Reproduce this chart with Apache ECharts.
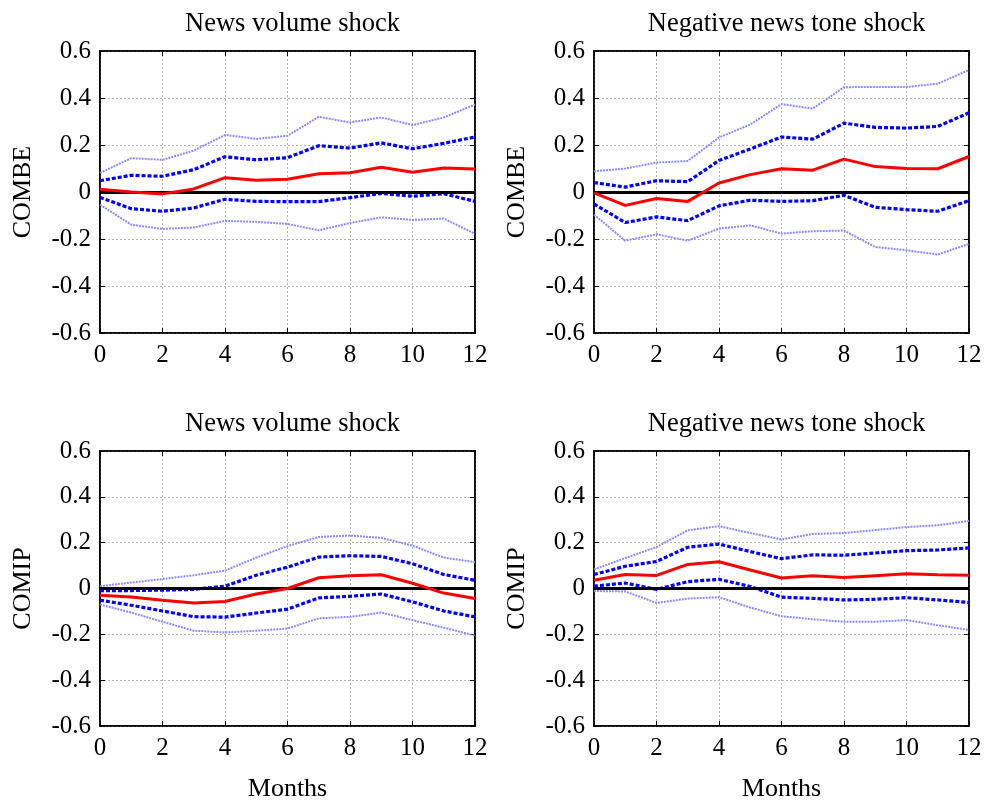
<!DOCTYPE html>
<html>
<head>
<meta charset="utf-8">
<script src="https://cdn.jsdelivr.net/npm/echarts@6/dist/echarts.min.js"></script>
<style>
html,body{margin:0;padding:0;background:#fff;}
#chart{width:987px;height:803px;}
</style>
</head>
<body>
<div id="chart"></div>
<script>
const months = [0,1,2,3,4,5,6,7,8,9,10,11,12];
const panelTitles = ['News volume shock','Negative news tone shock','News volume shock','Negative news tone shock'];
const yNames = ['COMBE','COMBE','COMIP','COMIP'];
const xName = 'Months';
const yTicks = [-0.6,-0.4,-0.2,0,0.2,0.4,0.6];
const xTicks = [0,2,4,6,8,10,12];

// Panel 1: COMBE, news volume shock
const p1_irf   = [0.012,0.0,-0.008,0.013,0.061,0.05,0.054,0.078,0.082,0.105,0.084,0.102,0.098];
const p1_up68  = [0.048,0.071,0.067,0.095,0.15,0.137,0.146,0.197,0.187,0.209,0.184,0.207,0.234];
const p1_lo68  = [-0.023,-0.071,-0.082,-0.068,-0.031,-0.04,-0.041,-0.041,-0.024,-0.006,-0.018,-0.007,-0.04];
const p1_up90  = [0.081,0.144,0.137,0.176,0.243,0.226,0.239,0.32,0.296,0.317,0.285,0.317,0.372];
const p1_lo90  = [-0.054,-0.139,-0.157,-0.151,-0.123,-0.127,-0.136,-0.163,-0.132,-0.108,-0.119,-0.113,-0.178];

// Panel 2: COMBE, negative news tone shock
const p2_irf   = [-0.004,-0.057,-0.028,-0.04,0.038,0.074,0.099,0.093,0.14,0.108,0.1,0.099,0.151];
const p2_up68  = [0.04,0.021,0.048,0.044,0.134,0.183,0.234,0.225,0.293,0.275,0.272,0.279,0.337];
const p2_lo68  = [-0.051,-0.13,-0.106,-0.122,-0.059,-0.035,-0.04,-0.037,-0.014,-0.065,-0.075,-0.082,-0.037];
const p2_up90  = [0.088,0.1,0.125,0.132,0.232,0.287,0.374,0.355,0.446,0.447,0.447,0.461,0.519];
const p2_lo90  = [-0.096,-0.207,-0.18,-0.207,-0.156,-0.142,-0.177,-0.167,-0.164,-0.234,-0.248,-0.266,-0.221];

// Panel 3: COMIP, news volume shock
const p3_irf   = [-0.029,-0.037,-0.051,-0.063,-0.057,-0.024,0.0,0.047,0.056,0.06,0.023,-0.02,-0.044];
const p3_up68  = [-0.01,-0.009,-0.007,-0.004,0.01,0.058,0.093,0.137,0.143,0.14,0.108,0.061,0.036];
const p3_lo68  = [-0.051,-0.073,-0.098,-0.123,-0.125,-0.107,-0.09,-0.041,-0.034,-0.024,-0.058,-0.098,-0.124];
const p3_up90  = [0.01,0.026,0.041,0.058,0.078,0.135,0.185,0.225,0.231,0.221,0.187,0.135,0.115];
const p3_lo90  = [-0.07,-0.105,-0.145,-0.184,-0.192,-0.184,-0.175,-0.13,-0.124,-0.105,-0.138,-0.171,-0.205];

// Panel 4: COMIP, negative news tone shock
const p4_irf   = [0.036,0.061,0.057,0.105,0.117,0.081,0.046,0.056,0.048,0.056,0.064,0.06,0.058];
const p4_up68  = [0.061,0.097,0.118,0.18,0.194,0.161,0.13,0.147,0.145,0.155,0.165,0.168,0.177];
const p4_lo68  = [0.01,0.024,-0.004,0.03,0.04,0.009,-0.038,-0.043,-0.05,-0.047,-0.04,-0.05,-0.061];
const p4_up90  = [0.083,0.133,0.181,0.254,0.272,0.242,0.214,0.238,0.242,0.255,0.268,0.276,0.295];
const p4_lo90  = [-0.011,-0.013,-0.063,-0.044,-0.038,-0.083,-0.121,-0.134,-0.145,-0.145,-0.138,-0.16,-0.181];

const panels = [
  {irf:p1_irf, up68:p1_up68, lo68:p1_lo68, up90:p1_up90, lo90:p1_lo90},
  {irf:p2_irf, up68:p2_up68, lo68:p2_lo68, up90:p2_up90, lo90:p2_lo90},
  {irf:p3_irf, up68:p3_up68, lo68:p3_lo68, up90:p3_up90, lo90:p3_lo90},
  {irf:p4_irf, up68:p4_up68, lo68:p4_lo68, up90:p4_up90, lo90:p4_lo90}
];

const FONT = '"Liberation Serif","DejaVu Serif",serif';
const gridBoxes = [
  {left:100, top:51, width:375, height:282},
  {left:594, top:51, width:375, height:282},
  {left:100, top:451, width:375, height:281},
  {left:594, top:451, width:375, height:281}
];

const pair = arr => arr.map((v,i)=>[months[i], v]);

const option = {
  animation:false,
  backgroundColor:'#fff',
  title: [],
  grid: [],
  xAxis: [],
  yAxis: [],
  series: []
};

gridBoxes.forEach((g,k)=>{
  option.grid.push(Object.assign({show:true, borderColor:'#000', borderWidth:1.5, backgroundColor:'#fff'}, g));
  option.title.push({
    text: panelTitles[k],
    left: g.left + g.width/2, top: g.top - 45,
    textAlign:'center',
    textStyle:{fontFamily:FONT, fontSize:26.5, fontWeight:'normal', color:'#000'}
  });
  const xb = option.xAxis.length;
  option.xAxis.push({
    gridIndex:k, type:'value', min:0, max:12, interval:2, position:'bottom',
    name: k>=2 ? xName : '', nameLocation:'middle', nameGap:50,
    nameTextStyle:{fontFamily:FONT, fontSize:26, color:'#000'},
    axisLine:{show:true, onZero:false, lineStyle:{color:'#000', width:1.5}},
    axisTick:{show:true, inside:true, length:5, lineStyle:{color:'#000'}},
    axisLabel:{fontFamily:FONT, fontSize:25, color:'#000', margin:10},
    splitLine:{show:true, lineStyle:{color:'#b4b4b4', width:1, type:[2,2]}}
  });
  option.xAxis.push({
    gridIndex:k, type:'value', min:0, max:12, interval:2, position:'top',
    axisLine:{show:true, onZero:false, lineStyle:{color:'#000', width:1.5}},
    axisTick:{show:true, inside:true, length:5, lineStyle:{color:'#000'}},
    axisLabel:{show:false}, splitLine:{show:false}
  });
  const yb = option.yAxis.length;
  option.yAxis.push({
    gridIndex:k, type:'value', min:-0.6, max:0.6, interval:0.2, position:'left',
    name: yNames[k], nameLocation:'middle', nameGap:64, nameRotate:90,
    nameTextStyle:{fontFamily:FONT, fontSize:26, color:'#000'},
    axisLine:{show:true, onZero:false, lineStyle:{color:'#000', width:1.5}},
    axisTick:{show:true, inside:true, length:5, lineStyle:{color:'#000'}},
    axisLabel:{fontFamily:FONT, fontSize:25, color:'#000', margin:9,
      formatter: v => Math.abs(v) < 1e-9 ? '0' : v.toFixed(1)},
    splitLine:{show:true, lineStyle:{color:'#b4b4b4', width:1, type:[2,2]}}
  });
  option.yAxis.push({
    gridIndex:k, type:'value', min:-0.6, max:0.6, interval:0.2, position:'right',
    axisLine:{show:true, onZero:false, lineStyle:{color:'#000', width:1.5}},
    axisTick:{show:true, inside:true, length:5, lineStyle:{color:'#000'}},
    axisLabel:{show:false}, splitLine:{show:false}
  });
  const p = panels[k];
  const base = {type:'line', xAxisIndex:xb, yAxisIndex:yb, symbol:'none', silent:true};
  option.series.push(Object.assign({}, base, {data:pair(p.up90), lineStyle:{color:'#8c8cff', width:2, type:[2,1]}}));
  option.series.push(Object.assign({}, base, {data:pair(p.lo90), lineStyle:{color:'#8c8cff', width:2, type:[2,1]}}));
  option.series.push(Object.assign({}, base, {data:pair(p.up68), lineStyle:{color:'#0000ff', width:3.2, type:[4,2]}}));
  option.series.push(Object.assign({}, base, {data:pair(p.lo68), lineStyle:{color:'#0000ff', width:3.2, type:[4,2]}}));
  option.series.push(Object.assign({}, base, {data:pair(p.irf), lineStyle:{color:'#ff0000', width:3, type:'solid'}, z:5,
    markLine:{silent:true, symbol:'none', label:{show:false}, lineStyle:{color:'#000', width:3, type:'solid'},
      data:[{yAxis:0}]}}));
});

const chart = echarts.init(document.getElementById('chart'), null, {renderer:'canvas'});
chart.setOption(option);
</script>
</body>
</html>
